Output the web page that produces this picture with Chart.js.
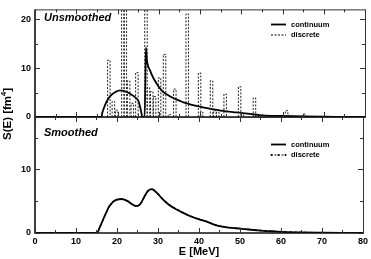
<!DOCTYPE html>
<html><head><meta charset="utf-8">
<script src="https://cdn.jsdelivr.net/npm/chart.js@4.4.0/dist/chart.umd.min.js"></script>
<style>
html,body{margin:0;padding:0;background:#fff;}
#wrap{position:relative;width:371px;height:259px;overflow:hidden;}
canvas{position:absolute;left:0;top:0;}
</style></head><body>
<div id="wrap"><canvas id="c1" width="371" height="259"></canvas><canvas id="c2" width="371" height="259"></canvas></div>
<script>
const FONT = '"Liberation Sans", Arial, Helvetica, sans-serif';

// Unsmoothed: discrete strengths (E in MeV, S in fm^4)
const discreteE = [17.9, 19.0, 19.8, 21.3, 21.9, 22.7, 23.6, 24.7, 26.9, 27.5, 28.3, 29.0, 30.2, 31.4, 32.6, 33.9, 36.9, 39.9, 40.4, 42.8, 43.6, 44.3, 46.1, 49.6, 50.3, 53.2, 54.5, 55.5, 61.0, 65.2];
const discreteS = [11.6, 3.2, 1.4, 30, 30, 7.4, 2.8, 9.1, 30, 6.0, 5.2, 4.2, 8.0, 12.8, 0.5, 5.7, 21.1, 9.0, 1.0, 7.4, 1.3, 1.0, 4.7, 6.2, 0.4, 3.9, 0.3, 0.3, 1.3, 0.6];

// Unsmoothed: continuum
const contE = [0, 16.1, 16.3, 16.6, 17.0, 17.8, 18.5, 19.5, 20.6, 21.5, 22.5, 23.5, 24.3, 25.1, 25.5, 25.8, 26.0, 26.55, 26.75, 26.9, 27.1, 27.4, 27.9, 28.5, 29, 30, 31, 32, 33, 34, 35, 36, 38, 40, 42, 45, 48, 50, 55, 60, 65, 70, 75, 80];
const contS = [0, 0, 0.8, 1.6, 2.5, 3.8, 4.5, 5.1, 5.45, 5.35, 5.0, 4.5, 4.0, 3.2, 2.0, 0.8, 0, 0, 7, 14.2, 11.8, 10.5, 9.5, 8.3, 7.5, 6.2, 5.2, 4.6, 4.1, 3.7, 3.35, 3.0, 2.5, 2.1, 1.75, 1.3, 1.0, 0.85, 0.35, 0.2, 0.1, 0.05, 0.03, 0.01];

// Smoothed: continuum
const smContE = [0, 15.2, 15.6, 16.0, 16.6, 17.0, 17.5, 18.0, 18.5, 19.0, 19.5, 20.0, 21.0, 21.5, 22.0, 22.5, 23.0, 23.5, 24.0, 24.5, 25.0, 25.5, 26.0, 26.5, 27.0, 27.5, 28.0, 28.5, 29.0, 29.5, 30.0, 31, 32, 33, 34, 35, 36, 37, 38, 40, 42, 44, 46, 48, 50, 52, 55, 58, 60, 65, 70, 75, 80];
const smContS = [0, 0, 0.6, 1.2, 2.1, 2.7, 3.4, 4.1, 4.5, 4.9, 5.1, 5.25, 5.35, 5.3, 5.2, 5.05, 4.85, 4.6, 4.4, 4.28, 4.27, 4.45, 4.9, 5.5, 6.1, 6.6, 6.85, 6.9, 6.75, 6.45, 6.15, 5.4, 4.8, 4.3, 3.9, 3.55, 3.2, 2.9, 2.6, 2.15, 1.75, 1.25, 0.95, 0.8, 0.7, 0.55, 0.38, 0.25, 0.18, 0.09, 0.05, 0.02, 0.01];

// Smoothed: discrete
const smDiscE = [0, 15.2, 15.6, 16.0, 16.6, 17.0, 17.5, 18.0, 18.5, 19.0, 19.5, 20.0, 21.0, 21.5, 22.0, 22.5, 23.0, 23.5, 24.0, 24.5, 25.0, 25.5, 26.0, 26.5, 27.0, 27.5, 28.0, 28.5, 29.0, 29.5, 30.0, 31, 32, 33, 34, 35, 36, 37, 38, 40, 42, 44, 46, 48, 50, 52, 55, 58, 60, 65, 70, 75, 80];
const smDiscS = [0, 0, 0.55, 1.15, 2.05, 2.7, 3.35, 4.05, 4.5, 4.85, 5.1, 5.25, 5.3, 5.3, 5.2, 5.0, 4.8, 4.6, 4.4, 4.25, 4.25, 4.4, 4.85, 5.45, 6.05, 6.55, 6.8, 6.85, 6.7, 6.45, 6.1, 5.45, 4.85, 4.35, 3.95, 3.6, 3.25, 2.9, 2.65, 2.2, 1.8, 1.3, 1.0, 0.85, 0.72, 0.58, 0.42, 0.3, 0.22, 0.12, 0.07, 0.04, 0.02];

const BAR_HALF = 0.3;

function toPoints(E, S) { return E.map((e, i) => ({x: e, y: S[i]})); }
function barOutline(E, S, hw) {
  const pts = [];
  E.forEach((e, i) => {
    pts.push({x: e - hw, y: 0}, {x: e - hw, y: S[i]}, {x: e + hw, y: S[i]}, {x: e + hw, y: 0}, {x: e + hw, y: null});
  });
  return pts;
}

function yScale(max) {
  return {
    type: 'linear', min: 0, max: max,
    afterFit(s) { s.width = 35; },
    afterBuildTicks(s) { s.ticks = s.ticks.filter(t => t.value % 5 === 0); },
    ticks: { stepSize: 5, autoSkip: false, padding: 4, color: '#000',
      font: { family: FONT, size: 9, weight: 'bold' },
      callback: v => (v % 10 === 0 ? String(v) : '') },
    grid: { display: false, drawTicks: false },
    border: { display: false }
  };
}

const framePlugin = {
  id: 'frame',
  afterDraw(chart) {
    const {ctx, chartArea: a, scales: {x, y}} = chart;
    ctx.save();
    ctx.strokeStyle = '#333';
    ctx.lineWidth = 1;
    ctx.beginPath();
    ctx.moveTo(a.left, a.top + 0.5); ctx.lineTo(a.right + 0.5, a.top + 0.5); ctx.lineTo(a.right + 0.5, a.bottom);
    ctx.stroke();
    ctx.strokeStyle = '#111';
    ctx.lineWidth = 1.6;
    ctx.beginPath();
    ctx.moveTo(a.left, a.top); ctx.lineTo(a.left, a.bottom); ctx.lineTo(a.right + 1, a.bottom);
    ctx.stroke();
    ctx.lineWidth = 1;
    ctx.strokeStyle = '#333';
    ctx.beginPath();
    x.ticks.forEach(t => {
      if (t.value % 5 !== 0) return;
      const px = Math.round(x.getPixelForValue(t.value)) + 0.5;
      const len = t.value % 10 === 0 ? 5 : 3;
      ctx.moveTo(px, a.bottom); ctx.lineTo(px, a.bottom - len);
      ctx.moveTo(px, a.top); ctx.lineTo(px, a.top + len);
    });
    y.ticks.forEach(t => {
      if (t.value % 5 !== 0) return;
      const py = Math.round(y.getPixelForValue(t.value)) + 0.5;
      const len = t.value % 10 === 0 ? 5 : 3;
      ctx.moveTo(a.left, py); ctx.lineTo(a.left + len, py);
      ctx.moveTo(a.right, py); ctx.lineTo(a.right - len, py);
    });
    ctx.stroke();
    ctx.restore();
  }
};

function legendPlugin(title, titleY, ly, dotted) {
  return {
    id: 'texts',
    afterDraw(chart) {
      const ctx = chart.ctx;
      ctx.save();
      ctx.fillStyle = '#000';
      ctx.font = 'bold italic 11px ' + FONT;
      ctx.textBaseline = 'middle';
      ctx.textAlign = 'left';
      ctx.fillText(title, 44, titleY);
      ctx.font = 'bold 7.5px ' + FONT;
      // continuum
      ctx.strokeStyle = '#000';
      ctx.lineWidth = 1.8;
      ctx.beginPath(); ctx.moveTo(271, ly); ctx.lineTo(286, ly); ctx.stroke();
      ctx.fillText('continuum', 291, ly);
      // discrete
      ctx.lineWidth = 1;
      ctx.setLineDash([2, 1.5]);
      ctx.beginPath(); ctx.moveTo(271, ly + 10.5); ctx.lineTo(286, ly + 10.5); ctx.stroke();
      ctx.setLineDash([]);
      if (dotted) {
        [271.5, 278.5, 285.5].forEach(px => { ctx.beginPath(); ctx.arc(px, ly + 10.5, 1, 0, Math.PI * 2); ctx.fill(); });
      }
      ctx.fillText('discrete', 291, ly + 10.5);
      ctx.restore();
    }
  };
}

const yTitlePlugin = {
  id: 'ytitle',
  afterDraw(chart) {
    const ctx = chart.ctx;
    ctx.save();
    ctx.fillStyle = '#000';
    ctx.translate(11, 114);
    ctx.rotate(-Math.PI / 2);
    ctx.textBaseline = 'alphabetic';
    ctx.textAlign = 'left';
    const big = 'bold 11.5px ' + FONT, small = 'bold 7.5px ' + FONT;
    ctx.font = big; const w1 = ctx.measureText('S(E) [fm').width; const w3 = ctx.measureText(']').width;
    ctx.font = small; const w2 = ctx.measureText('4').width;
    const start = -(w1 + w2 + w3) / 2;
    ctx.font = big; ctx.fillText('S(E) [fm', start, 0);
    ctx.font = small; ctx.fillText('4', start + w1, -5);
    ctx.font = big; ctx.fillText(']', start + w1 + w2, 0);
    ctx.restore();
  }
};

Chart.defaults.font.family = FONT;
Chart.defaults.color = '#000';

new Chart(document.getElementById('c1'), {
  type: 'line',
  data: {
    datasets: [
      { label: 'discrete', data: barOutline(discreteE, discreteS, BAR_HALF), borderColor: '#222', borderWidth: 1,
        borderDash: [2, 1.5], pointRadius: 0, tension: 0, spanGaps: false, fill: false },
      { label: 'continuum', data: toPoints(contE, contS), borderColor: '#000', borderWidth: 1.8,
        pointRadius: 0, cubicInterpolationMode: 'monotone', fill: false }
    ]
  },
  options: {
    responsive: false, animation: false, devicePixelRatio: 1,
    layout: { padding: { left: 0, right: 6, top: 2, bottom: 142 } },
    plugins: { legend: { display: false }, tooltip: { enabled: false } },
    scales: {
      x: { type: 'linear', min: 0, max: 80, display: false, ticks: { stepSize: 5 },
        afterBuildTicks(s) { s.ticks = s.ticks.filter(t => t.value % 5 === 0); } },
      y: yScale(22)
    }
  },
  plugins: [framePlugin, legendPlugin('Unsmoothed', 18, 24.5, false), yTitlePlugin]
});

new Chart(document.getElementById('c2'), {
  type: 'line',
  data: {
    datasets: [
      { label: 'continuum', data: toPoints(smContE, smContS), borderColor: '#000', borderWidth: 1.8,
        pointRadius: 0, cubicInterpolationMode: 'monotone', fill: false },
      { label: 'discrete', data: toPoints(smDiscE, smDiscS), borderColor: '#000', borderWidth: 1,
        borderDash: [3, 2], pointRadius: 0.8, pointBackgroundColor: '#000', pointBorderWidth: 0,
        cubicInterpolationMode: 'monotone', fill: false }
    ]
  },
  options: {
    responsive: false, animation: false, devicePixelRatio: 1,
    layout: { padding: { left: 0, right: 6, top: 117, bottom: 0 } },
    plugins: { legend: { display: false }, tooltip: { enabled: false } },
    scales: {
      x: {
        type: 'linear', min: 0, max: 80,
        afterFit(s) { s.height = 26; },
        afterBuildTicks(s) { s.ticks = s.ticks.filter(t => t.value % 5 === 0); },
        ticks: { stepSize: 5, autoSkip: false, maxRotation: 0, padding: 3, color: '#000',
          font: { family: FONT, size: 9, weight: 'bold' },
          callback: v => (v % 10 === 0 ? String(v) : '') },
        grid: { display: false, drawTicks: false },
        border: { display: false },
        title: { display: true, text: 'E [MeV]', color: '#000',
          font: { family: FONT, size: 11, weight: 'bold' }, padding: { top: 0, bottom: 0 } }
      },
      y: yScale(18.25)
    }
  },
  plugins: [framePlugin, legendPlugin('Smoothed', 133, 144.5, true)]
});
</script>
</body></html>
